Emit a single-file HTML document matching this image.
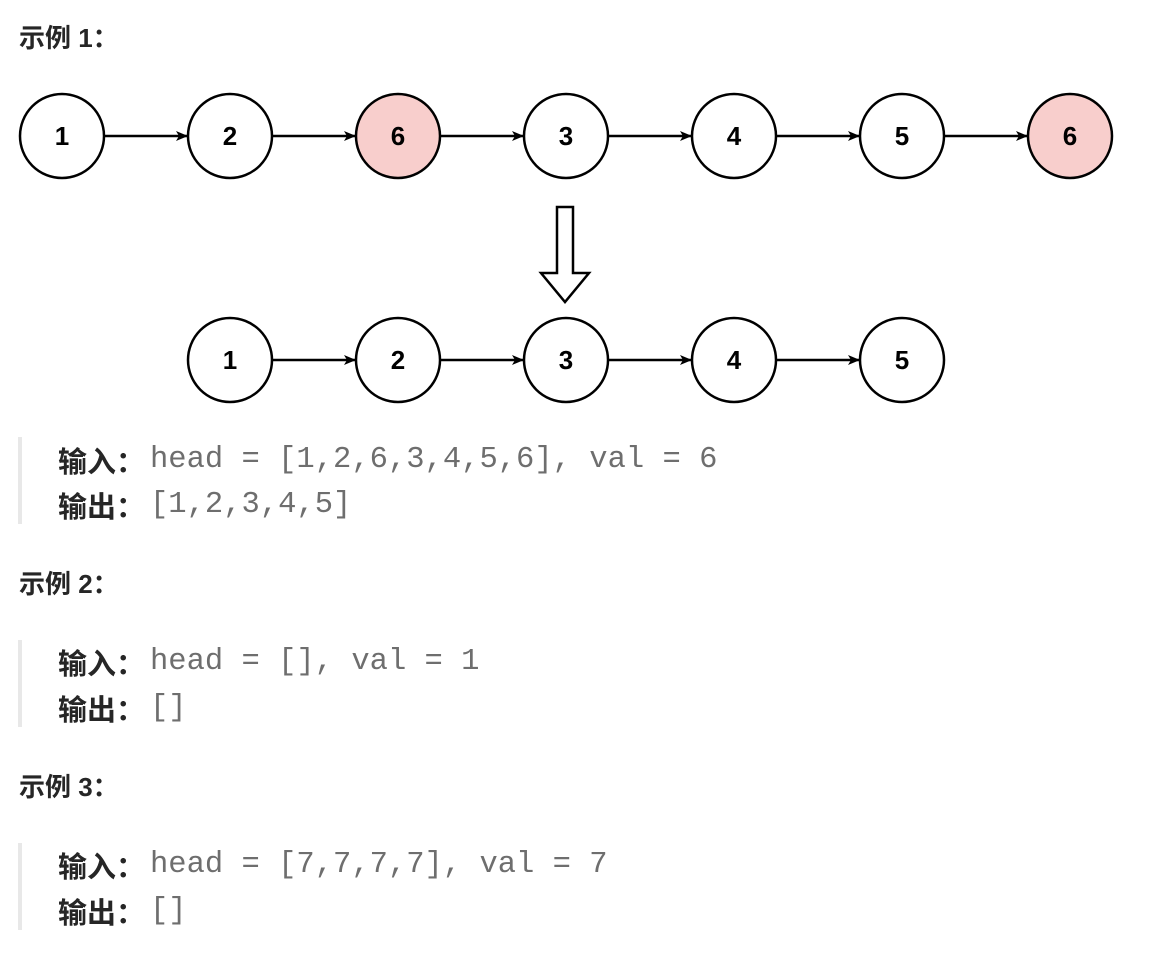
<!DOCTYPE html>
<html><head><meta charset="utf-8"><style>
body{margin:0;width:1156px;height:959px;background:#fff;position:relative;overflow:hidden;font-family:"Liberation Sans","Noto Sans CJK SC",sans-serif;}
.h{position:absolute;left:19px;font-size:26px;font-weight:bold;color:#262626;line-height:30px;}
.bar{position:absolute;left:18px;width:4px;background:#e8e8e8;}
.lb{position:absolute;left:58px;font-size:29px;font-weight:bold;color:#262626;line-height:40px;font-family:"Noto Sans CJK SC","WenQuanYi Zen Hei",sans-serif;}
.m{position:absolute;left:150px;font-family:"Liberation Mono","DejaVu Sans Mono",monospace;font-size:30.5px;color:#6e6e6e;line-height:40px;white-space:pre;}
svg{position:absolute;left:0;top:0;}
</style></head><body>
<div class="h" style="top:23px">示例 1：</div>
<svg width="1156" height="420" viewBox="0 0 1156 420">
<defs><marker id="a" markerWidth="12" markerHeight="10" refX="11" refY="5" orient="auto" markerUnits="userSpaceOnUse"><path d="M0,0 L12,5 L0,10 L3,5 Z" fill="#000"/></marker></defs>
<g stroke="#000" stroke-width="2.5" fill="#fff">
<circle cx="62" cy="136" r="42"/><circle cx="230" cy="136" r="42"/><circle cx="398" cy="136" r="42" fill="#f8cecc"/><circle cx="566" cy="136" r="42"/><circle cx="734" cy="136" r="42"/><circle cx="902" cy="136" r="42"/><circle cx="1070" cy="136" r="42" fill="#f8cecc"/>
<circle cx="230" cy="360" r="42"/><circle cx="398" cy="360" r="42"/><circle cx="566" cy="360" r="42"/><circle cx="734" cy="360" r="42"/><circle cx="902" cy="360" r="42"/>
</g>
<g stroke="#000" stroke-width="2.5" marker-end="url(#a)">
<line x1="104" y1="136" x2="187" y2="136"/><line x1="272" y1="136" x2="355" y2="136"/><line x1="440" y1="136" x2="523" y2="136"/><line x1="608" y1="136" x2="691" y2="136"/><line x1="776" y1="136" x2="859" y2="136"/><line x1="944" y1="136" x2="1027" y2="136"/>
<line x1="272" y1="360" x2="355" y2="360"/><line x1="440" y1="360" x2="523" y2="360"/><line x1="608" y1="360" x2="691" y2="360"/><line x1="776" y1="360" x2="859" y2="360"/>
</g>
<path d="M557,207 L573,207 L573,273 L589,273 L565,302 L541,273 L557,273 Z" fill="#fff" stroke="#000" stroke-width="2.5"/>
<g font-family="Liberation Sans,sans-serif" font-weight="bold" font-size="26" text-anchor="middle" fill="#000">
<text x="62" y="145">1</text><text x="230" y="145">2</text><text x="398" y="145">6</text><text x="566" y="145">3</text><text x="734" y="145">4</text><text x="902" y="145">5</text><text x="1070" y="145">6</text>
<text x="230" y="369">1</text><text x="398" y="369">2</text><text x="566" y="369">3</text><text x="734" y="369">4</text><text x="902" y="369">5</text>
</g>
</svg>
<div class="bar" style="top:437px;height:87px"></div>
<div class="lb" style="top:440px">输入：</div><div class="m" style="top:440px">head = [1,2,6,3,4,5,6], val = 6</div>
<div class="lb" style="top:485px">输出：</div><div class="m" style="top:485px">[1,2,3,4,5]</div>
<div class="h" style="top:569px">示例 2：</div>
<div class="bar" style="top:640px;height:87px"></div>
<div class="lb" style="top:642px">输入：</div><div class="m" style="top:642px">head = [], val = 1</div>
<div class="lb" style="top:688px">输出：</div><div class="m" style="top:688px">[]</div>
<div class="h" style="top:772px">示例 3：</div>
<div class="bar" style="top:843px;height:87px"></div>
<div class="lb" style="top:845px">输入：</div><div class="m" style="top:845px">head = [7,7,7,7], val = 7</div>
<div class="lb" style="top:891px">输出：</div><div class="m" style="top:891px">[]</div>
</body></html>
